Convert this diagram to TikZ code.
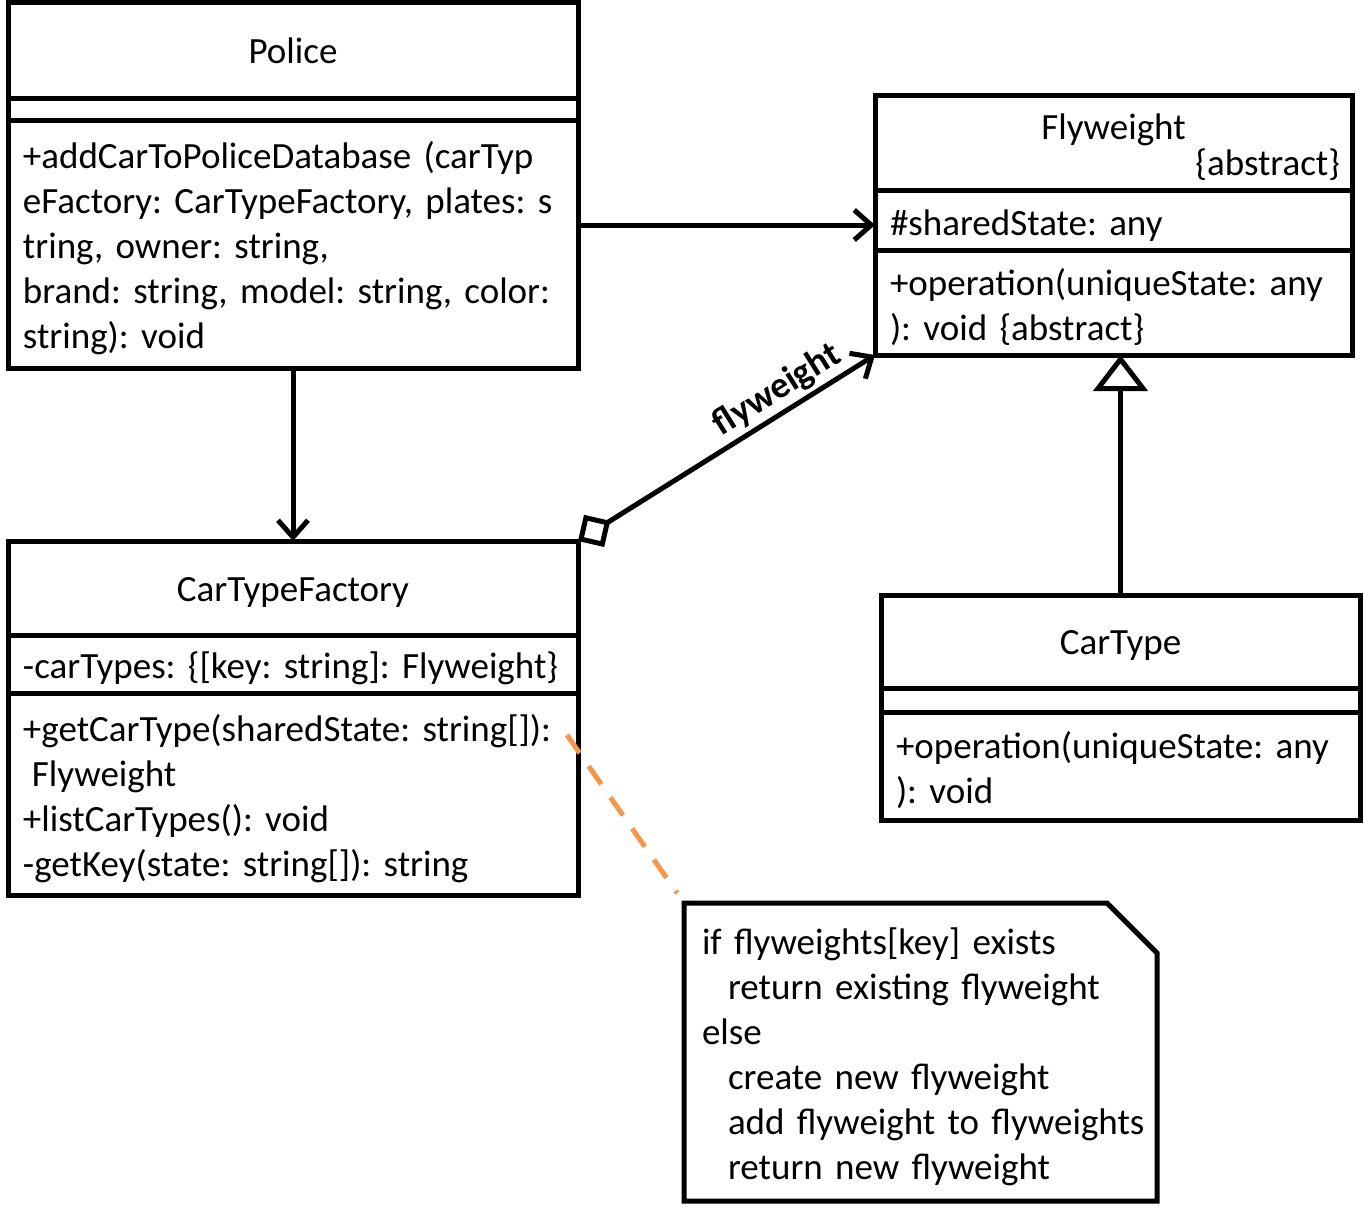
\documentclass[tikz,border=0pt]{standalone}
\usepackage{fontspec}
\setmainfont{Carlito}
\usetikzlibrary{arrows.meta}
\definecolor{noteorange}{RGB}{244,151,74}
\frenchspacing
\hyphenpenalty=10000
\exhyphenpenalty=10000

\begin{document}
\begin{tikzpicture}[
            x=1pt, y=-1pt,
            line width=5pt,
            every node/.style={font=\fontsize{37}{45}\selectfont},
            part/.style={draw,anchor=north west,outer sep=0pt,inner ysep=0pt,inner xsep=15pt},
            ops/.style={part,align=left,text height=36pt,execute at begin node={\rightskip=-40pt plus 1fil\relax}},
            title/.style={part,align=center,text height=30pt,text depth=4pt},
            assoc/.style={-{Straight Barb[length=17pt,width=30pt]}},
            aggr/.style={{Diamond[open,length=38pt,width=38pt]}-{Straight Barb[length=17pt,width=30pt]}},
            inherit/.style={-{Triangle[open,length=36pt,width=54pt]}},
            notelink/.style={noteorange,dash pattern=on 22pt off 16pt,shorten >=12pt}
            ]
            \useasboundingbox (0,0) rectangle (1364,1215);
            \node[title,text width=540pt,minimum height=95pt] (policetitle) at (8,3) {Police};
            \node[part,text width=540pt,minimum height=22pt] (policeattr) at (policetitle.south west) {};
            \node[ops,text width=540pt,minimum height=248pt] (policeops) at (policeattr.south west)
                {+addCarToPoliceDatabase (carTyp\\eFactory: CarTypeFactory, plates: s\\tring, owner: string,\\brand: string, model: string, color:\\string): void};
            \node[part,align=center,text height=36pt,inner xsep=12pt,text width=453pt,minimum height=95pt] (fwtitle) at (875,95)
                {Flyweight\\[-9pt]\makebox[453pt][r]{\{abstract\}}};
            \node[ops,text width=447pt,minimum height=60pt] (fwattr) at (fwtitle.south west) {\#sharedState: any};
            \node[ops,text width=447pt,minimum height=105pt] (fwops) at (fwattr.south west)
                {+operation(uniqueState: any\\): void \{abstract\}};
            \node[title,text width=540pt,minimum height=94pt] (ctftitle) at (8,541) {CarTypeFactory};
            \node[ops,text width=540pt,minimum height=58pt] (ctfattr) at (ctftitle.south west)
                {-carTypes: \{[key: string]: Flyweight\}};
            \node[ops,text width=540pt,minimum height=202pt] (ctfops) at (ctfattr.south west)
                {+getCarType(sharedState: string[]):\\\hspace*{9pt}Flyweight\\+listCarTypes(): void\\-getKey(state: string[]): string};
            \node[title,text width=449pt,minimum height=93pt] (cttitle) at (881,595) {CarType};
            \node[part,text width=449pt,minimum height=24pt] (ctattr) at (cttitle.south west) {};
            \node[ops,text width=449pt,minimum height=108pt] (ctops) at (ctattr.south west)
                {+operation(uniqueState: any\\): void};
            \node[ops,draw=none,inner xsep=18pt,text width=437pt,minimum height=298pt] (note) at (684,903)
                {if flyweights[key] exists\\\hspace*{26pt}return existing flyweight\\else\\\hspace*{26pt}create new flyweight\\\hspace*{26pt}add flyweight to flyweights\\\hspace*{26pt}return new flyweight};
            \draw (note.north west) -- ([xshift=-50pt]note.north east) -- ([yshift=-50pt]note.north east)
                -- (note.south east) -- (note.south west) -- cycle;
            \coordinate (ctfhook) at (567,735);
            \draw[assoc] (policeops.south) -- (ctftitle.north);
            \draw[assoc] ([yshift=-5pt]fwattr.west -| policeops.east) -- ([yshift=-5pt]fwattr.west);
            \draw[aggr] (ctftitle.north east) -- node[sloped,above,pos=0.71,font=\fontsize{37}{45}\selectfont\bfseries] {flyweight} (fwops.south west);
            \draw[inherit] (cttitle.north) -- (cttitle.north |- fwops.south);
            \draw[notelink] (ctfhook) -- (note.north west);
        \end{tikzpicture}
\end{document}
